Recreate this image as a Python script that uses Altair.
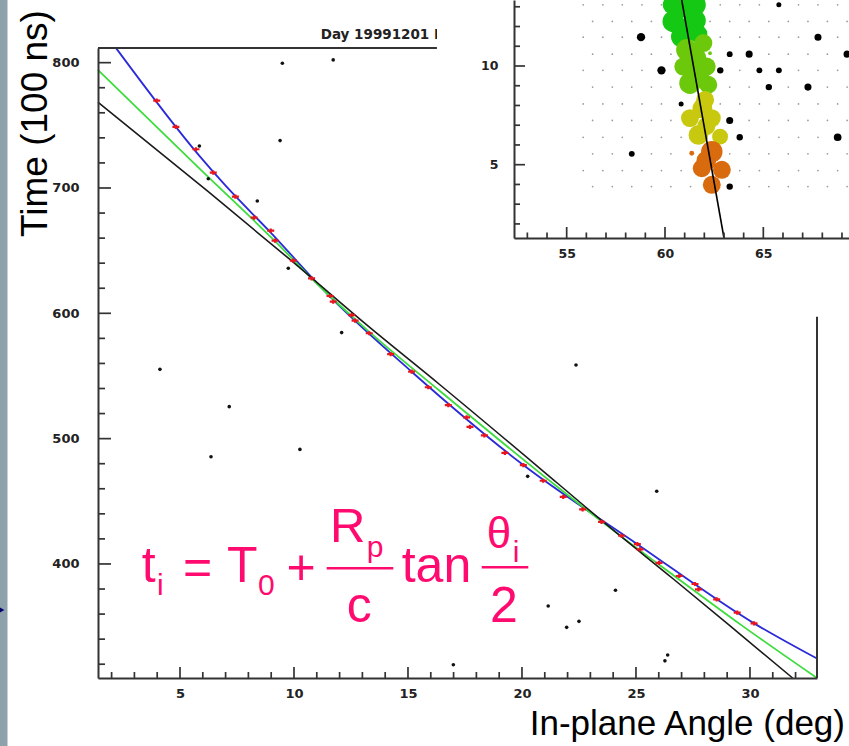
import altair as alt
import pandas as pd

# ---------------- main panel: fitted curves ----------------
blue_x = [2.18, 5.88, 6.97, 9.0, 11.58, 15.16, 20.06, 25.06, 30.18, 32.94]
blue_y = [812.0, 725.0, 702.4, 664.0, 613.3, 553.4, 478.9, 415.8, 352.6, 324.5]

green_x = [1.40, 5.88, 9.09, 11.1, 13.19, 16.4, 21.52, 23.7, 26.64, 29.56, 32.94]
green_y = [794.2, 715.0, 659.0, 622.0, 587.0, 538.0, 462.0, 431.0, 391.0, 352.0, 309.0]

black_x = [1.40, 6.24, 9.82, 13.19, 16.4, 21.52, 23.7, 26.64, 29.56, 31.87]
black_y = [768.4, 697.0, 643.0, 590.7, 543.0, 465.0, 431.5, 388.0, 344.0, 309.0]

fit_x = [3.98, 4.82, 5.70, 6.46, 7.43, 8.25, 8.98, 9.17, 9.97, 10.77, 11.58, 11.72,
         12.53, 12.68, 13.30, 14.24, 15.16, 15.89, 16.77, 17.57, 17.72, 18.35, 19.25,
         20.06, 20.93, 21.81, 22.66, 23.49, 24.37, 25.06, 25.18, 26.01, 26.90, 27.59,
         27.74, 28.54, 29.44, 30.18]
fit_y = [769.7, 748.7, 730.9, 712.2, 693.1, 676.3, 666.0, 658.0, 642.0, 627.9, 613.8, 609.3,
         598.6, 594.1, 584.1, 567.5, 553.4, 541.0, 526.8, 516.9, 509.4, 502.6, 488.7,
         478.9, 466.4, 453.6, 443.5, 433.6, 422.5, 415.8, 411.6, 400.9, 390.4, 384.0,
         379.7, 371.7, 361.1, 352.6]

noise_x = [9.49, 11.72, 5.85, 6.24, 8.39, 9.39, 9.75, 12.09, 4.12, 7.16, 6.36, 10.26,
           16.99, 22.37, 20.25, 25.91, 24.10, 21.15, 21.96, 22.50, 26.39, 26.27]
noise_y = [799.5, 802.2, 733.5, 707.4, 689.6, 737.8, 635.9, 584.6, 555.3, 525.5, 485.6, 491.4,
           319.6, 558.8, 469.9, 458.0, 379.0, 366.4, 349.4, 354.2, 327.3, 322.7]

main_x_ticks = [5, 10, 15, 20, 25, 30]
main_x_minor = [v for v in range(2, 33) if v % 5]
main_y_ticks = [400, 500, 600, 700, 800]
main_y_minor = [v for v in range(320, 800, 20) if v % 100]

XMIN, XMAX = 1.4035, 32.94
YMIN, YMAX = 309.0, 811.7
TOP_BORDER_END = 16.27
RIGHT_BORDER_END = 597.3

rows_even = [13.1, 11.46, 9.78, 8.08, 6.39, 4.70]
rows_odd = [12.26, 10.6, 8.93, 7.24, 5.55, 3.89]
cols_even = [55.84, 56.84, 57.83, 58.83, 59.82, 60.82, 61.81, 62.81, 63.80, 64.80,
             65.79, 66.79, 67.78, 68.78]
cols_odd = [56.32, 57.32, 58.31, 59.31, 60.30, 61.30, 62.29, 63.29, 64.28, 65.28,
            66.27, 67.27, 68.26, 69.26]

pmt_x = [65.79, 58.78, 67.78, 69.26, 63.29, 64.28, 59.82, 62.81, 64.80, 65.79, 65.28,
         67.27, 60.82, 63.29, 63.80, 68.78, 58.31, 63.29]
pmt_y = [13.1, 11.46, 11.46, 10.6, 10.6, 10.6, 9.78, 9.78, 9.78, 9.78, 8.93,
         8.93, 8.08, 7.24, 6.39, 6.39, 5.55, 3.89]
pmt_q = [8, 22, 16, 16, 11, 16, 22, 13, 11, 11, 13, 16, 8, 16, 13, 19, 11, 13]

g1_x = [60.34, 60.90, 61.53, 60.42, 61.53, 60.85, 61.70, 61.05]
g1_y = [13.10, 13.00, 13.10, 12.26, 12.30, 11.49, 11.62, 11.85]
g1_q = [70, 100, 100, 100, 100, 100, 70, 100]
g2_x = [61.11, 61.95, 60.93, 62.12, 61.55, 61.27, 62.20, 61.70, 62.29]
g2_y = [10.82, 11.16, 9.97, 9.97, 10.40, 9.13, 9.05, 9.50, 10.65]
g2_q = [100, 70, 70, 70, 100, 100, 70, 100, 3]
g3_x = [62.04, 61.27, 62.38, 61.70, 62.80, 61.90, 62.10]
g3_y = [8.28, 7.36, 7.36, 6.51, 6.42, 7.85, 6.95]
g3_q = [70, 70, 70, 85, 55, 85, 70]
g4_x = [62.38, 61.87, 62.89, 62.38, 62.10, 61.36]
g4_y = [5.66, 4.82, 4.74, 3.98, 5.20, 5.58]
g4_q = [100, 70, 70, 70, 85, 5]
bins = ["t1", "t2", "t3", "t4"]
bin_colors = ["#14c814", "#6cc80a", "#c8c80f", "#d96b0f"]

track_x = [60.85, 63.0]
track_y = [13.343, 1.287]

in_x_ticks = [55, 60, 65]
in_x_minor = [53, 54, 56, 57, 58, 59, 61, 62, 63, 64, 66, 67, 68, 69]
in_y_ticks = [5, 10]
in_y_minor = [2, 3, 4, 6, 7, 8, 9, 11, 12, 13]

IXMIN, IXMAX = 52.321, 69.357
IYMIN, IYMAX = 1.287, 13.343

blue = pd.DataFrame({"x": blue_x, "y": blue_y})
green = pd.DataFrame({"x": green_x, "y": green_y})
black = pd.DataFrame({"x": black_x, "y": black_y})
fits = pd.DataFrame({"x": fit_x, "y": fit_y})
noise = pd.DataFrame({"x": noise_x, "y": noise_y})
grid = pd.DataFrame(
    [{"x": c, "y": r} for r in rows_even for c in cols_even]
    + [{"x": c, "y": r} for r in rows_odd for c in cols_odd]
)
pmts = pd.DataFrame({"x": pmt_x, "y": pmt_y, "q": pmt_q})
hits = pd.concat([
    pd.DataFrame({"x": gx, "y": gy, "q": gq, "bin": b})
    for gx, gy, gq, b in [(g1_x, g1_y, g1_q, "t1"), (g2_x, g2_y, g2_q, "t2"),
                          (g3_x, g3_y, g3_q, "t3"), (g4_x, g4_y, g4_q, "t4")]
], ignore_index=True)
hits["rank"] = range(len(hits))
track = pd.DataFrame({"x": track_x, "y": track_y})
one = pd.DataFrame({"a": [0]})

# data units per pixel of each panel
MX = (XMAX - XMIN) / 719.0
MY = (YMAX - YMIN) / 630.0
IX = (IXMAX - IXMIN) / 335.0
IY = (IYMAX - IYMIN) / 238.0
HALF = 0.85  # half tick width, px


def tick_table(xvals_major, xvals_minor, yvals_major, yvals_minor,
               x0, y0, ux, uy, xl, yl):
    rows = []
    for vals, ln in [(xvals_major, xl[0]), (xvals_minor, xl[1])]:
        for v in vals:
            rows.append({"x1": v - HALF * ux, "x2": v + HALF * ux,
                         "y1": y0, "y2": y0 + ln * uy})
    for vals, ln in [(yvals_major, yl[0]), (yvals_minor, yl[1])]:
        for v in vals:
            rows.append({"x1": x0, "x2": x0 + ln * ux,
                         "y1": v - HALF * uy, "y2": v + HALF * uy})
    return pd.DataFrame(rows)


main_ticks = tick_table(main_x_ticks, main_x_minor, main_y_ticks, main_y_minor,
                        XMIN, YMIN, MX, MY, (11, 6), (13, 7))
inset_ticks = tick_table(in_x_ticks, in_x_minor, in_y_ticks, in_y_minor,
                         IXMIN, IYMIN, IX, IY, (11, 5.5), (11, 6))


def xm():
    return alt.Scale(domain=[XMIN, XMAX], range=[98, 817], nice=False, zero=False)


def ym():
    return alt.Scale(domain=[YMIN, YMAX], range=[678, 48], nice=False, zero=False)


def xi():
    return alt.Scale(domain=[IXMIN, IXMAX], range=[514, 849], nice=False, zero=False)


def yi():
    return alt.Scale(domain=[IYMIN, IYMAX], range=[238, 0], nice=False, zero=False)


def lab_axis(orient, offset, values, pad, fs):
    return alt.Axis(orient=orient, offset=offset, values=values, ticks=False,
                    tickSize=0, labelPadding=pad, domain=True, zindex=2,
                    labelFont="DejaVu Sans", labelFontWeight="bold", labelFontSize=fs,
                    labelColor="#222222", domainColor="#333333", domainWidth=2,
                    grid=False, title=None, labelFlush=False, labelOverlap=False)


TICK = "#333333"


def tick_rects(df, xs, ys):
    return alt.Chart(df).mark_rect(color=TICK, opacity=1).encode(
        x=alt.X("x1:Q", scale=xs, axis=None), x2="x2:Q",
        y=alt.Y("y1:Q", scale=ys, axis=None), y2="y2:Q")


layers = []

layers.append(alt.Chart(one).mark_rect(color="#8ea2ac").encode(
    x=alt.value(0), x2=alt.value(7.5), y=alt.value(0), y2=alt.value(746)))

layers.append(alt.Chart(blue).mark_line(color="#2a2ad8", strokeWidth=1.8, interpolate="monotone").encode(
    x=alt.X("x:Q", scale=xm(), axis=lab_axis("bottom", -68, main_x_ticks, 9, 13)),
    y=alt.Y("y:Q", scale=ym(), axis=lab_axis("left", -98, main_y_ticks, 19, 13)),
    order="x:Q"))
layers.append(alt.Chart(green).mark_line(color="#3ddc3d", strokeWidth=1.8, interpolate="monotone").encode(
    x=alt.X("x:Q", scale=xm(), axis=None), y=alt.Y("y:Q", scale=ym(), axis=None), order="x:Q"))
layers.append(alt.Chart(black).mark_line(color="#1a1a1a", strokeWidth=1.6, interpolate="monotone").encode(
    x=alt.X("x:Q", scale=xm(), axis=None), y=alt.Y("y:Q", scale=ym(), axis=None), order="x:Q"))

layers.append(alt.Chart(fits).mark_point(
    shape="M-1,0L1,0M0,-0.6L0,0.6", size=49, strokeWidth=2.2, color="#e8141e",
    filled=False, opacity=1).encode(
    x=alt.X("x:Q", scale=xm(), axis=None), y=alt.Y("y:Q", scale=ym(), axis=None)))
layers.append(alt.Chart(noise).mark_circle(size=13, color="#111111", opacity=1).encode(
    x=alt.X("x:Q", scale=xm(), axis=None), y=alt.Y("y:Q", scale=ym(), axis=None)))

layers.append(alt.Chart(one).mark_rule(color="#333333", strokeWidth=2).encode(
    x=alt.X("a:Q", scale=xm(), axis=None), y=alt.datum(YMAX, scale=ym(), axis=None)
).transform_calculate(a=str(XMIN)).encode(x2=alt.datum(TOP_BORDER_END)))
layers.append(alt.Chart(one).mark_rule(color="#333333", strokeWidth=2).encode(
    x=alt.datum(XMAX, scale=xm(), axis=None),
    y=alt.Y("a:Q", scale=ym(), axis=None)
).transform_calculate(a=str(YMIN)).encode(y2=alt.datum(RIGHT_BORDER_END)))

layers.append(alt.Chart(one).mark_text(
    text="Day 19991201 R", font="DejaVu Sans", fontWeight="bold", fontSize=13.5,
    color="#222222", align="left", baseline="alphabetic").encode(
    x=alt.value(320.7), y=alt.value(39.3)))

layers.append(alt.Chart(one).mark_rect(color="white").encode(
    x=alt.value(437), x2=alt.value(849), y=alt.value(0), y2=alt.value(316)))

layers.append(alt.Chart(grid).mark_circle(size=3, color="#9a9a9a", opacity=1).encode(
    x=alt.X("x:Q", scale=xi(), axis=None), y=alt.Y("y:Q", scale=yi(), axis=None)))
layers.append(alt.Chart(hits).mark_circle(opacity=1).encode(
    x=alt.X("x:Q", scale=xi(), axis=None),
    y=alt.Y("y:Q", scale=yi(), axis=None),
    size=alt.Size("q:Q", scale=alt.Scale(domain=[0, 100], range=[0, 460]), legend=None),
    color=alt.Color("bin:N", scale=alt.Scale(domain=bins, range=bin_colors), legend=None),
    order="rank:Q"))
layers.append(alt.Chart(pmts).mark_circle(color="#000000", opacity=1).encode(
    x=alt.X("x:Q", scale=xi(), axis=None),
    y=alt.Y("y:Q", scale=yi(), axis=None),
    size=alt.Size("q:Q", scale=alt.Scale(domain=[0, 100], range=[0, 314]), legend=None)))
layers.append(alt.Chart(track).mark_line(color="#000000", strokeWidth=1.6).encode(
    x=alt.X("x:Q", scale=xi(), axis=lab_axis("bottom", -508, in_x_ticks, 9, 12.5)),
    y=alt.Y("y:Q", scale=yi(), axis=lab_axis("left", -514, in_y_ticks, 16, 12.5))))

PINK = "#ff0a6e"


def txt(s, x, y, fs, align="left", **kw):
    return alt.Chart(one).mark_text(
        text=s, font="Liberation Sans", fontSize=fs, align=align,
        baseline="alphabetic", **kw).encode(x=alt.value(x), y=alt.value(y))


layers.append(txt("Time (100 ns)", 47, 123.5, 37, align="center", angle=270, color="#000000"))
layers.append(txt("In-plane Angle (deg)", 845, 735, 35, align="right", color="#000000"))

layers += [
    txt("t", 141.7, 581.7, 50, color=PINK),
    txt("i", 157, 595, 30, color=PINK),
    txt("=", 197.5, 584, 50, align="center", color=PINK),
    txt("T", 227, 581.7, 50, color=PINK),
    txt("0", 258, 595, 30, color=PINK),
    txt("+", 301, 584, 50, align="center", color=PINK),
    txt("R", 330, 541.7, 49, color=PINK),
    txt("p", 366.7, 556.7, 30, color=PINK),
    txt("c", 346.7, 621.7, 50, color=PINK),
    txt("tan", 401.7, 581.7, 50, color=PINK),
    txt("θ", 486.7, 548.3, 44, color=PINK),
    txt("i", 512.7, 561.7, 30, color=PINK),
    txt("2", 490, 621.7, 50, color=PINK),
]
layers.append(alt.Chart(one).mark_rule(color=PINK, strokeWidth=2.5).encode(
    x=alt.value(326.7), x2=alt.value(393.3), y=alt.value(568.3)))
layers.append(alt.Chart(one).mark_rule(color=PINK, strokeWidth=2.5).encode(
    x=alt.value(481.7), x2=alt.value(528.3), y=alt.value(567.3)))

layers.append(alt.Chart(one).mark_point(shape="triangle-right", filled=True, size=30,
                                        color="#000070", opacity=1).encode(
    x=alt.value(2), y=alt.value(610)))

# inward axis ticks, drawn last
layers.append(tick_rects(main_ticks, xm(), ym()))
layers.append(tick_rects(inset_ticks, xi(), yi()))

chart = alt.layer(*layers).resolve_scale(
    x="independent", y="independent", size="independent", color="independent"
).properties(
    width=849, height=746, autosize=alt.AutoSizeParams(type="none"), padding=0,
    background="white"
).configure_view(stroke=None)

chart.save("out.html", embed_options={"renderer": "svg", "actions": False})
